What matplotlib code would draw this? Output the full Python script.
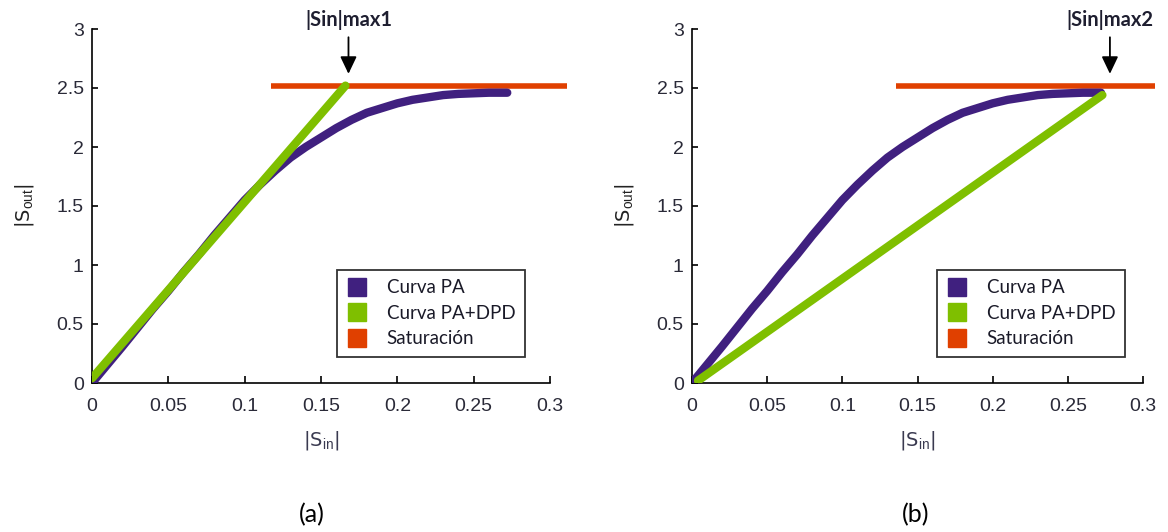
import matplotlib
matplotlib.use("Agg")
import matplotlib.pyplot as plt
from matplotlib.lines import Line2D

plt.rcParams["mathtext.fontset"] = "custom"
plt.rcParams["mathtext.rm"] = "Liberation Sans"
plt.rcParams["mathtext.it"] = "Liberation Sans"

# ---- data ----
pa_x = [0.0, 0.01, 0.02, 0.03, 0.04, 0.05, 0.06, 0.07, 0.08, 0.09, 0.10,
        0.11, 0.12, 0.13, 0.14, 0.15, 0.16, 0.17, 0.18, 0.19, 0.20,
        0.21, 0.22, 0.23, 0.24, 0.25, 0.26, 0.272]
pa_y = [0.0, 0.155, 0.31, 0.47, 0.63, 0.78, 0.94, 1.09, 1.25, 1.40, 1.55,
        1.68, 1.80, 1.91, 2.00, 2.08, 2.16, 2.23, 2.29, 2.33, 2.37,
        2.40, 2.42, 2.44, 2.45, 2.455, 2.46, 2.46]

dpd_a_x = [0.0, 0.166]
dpd_a_y = [0.04, 2.52]
dpd_b_x = [0.004, 0.273]
dpd_b_y = [0.02, 2.44]

sat_a_x = [0.117, 0.311]
sat_b_x = [0.136, 0.308]
sat_y = 2.52

arrow_a_x = 0.168
arrow_b_x = 0.278
arrow_labels = ["|Sin|max1", "|Sin|max2"]
captions = ["(a)", "(b)"]
legend_labels = ["Curva PA", "Curva PA+DPD", "Saturación"]
xticks = [0, 0.05, 0.1, 0.15, 0.2, 0.25, 0.3]
xticklabels = ["0", "0.05", "0.1", "0.15", "0.2", "0.25", "0.3"]
yticks = [0, 0.5, 1, 1.5, 2, 2.5, 3]
yticklabels = ["0", "0.5", "1", "1.5", "2", "2.5", "3"]

C_PA = "#40207f"
C_DPD = "#7fbf00"
C_SAT = "#e04000"

W, H = 1168, 532
fig = plt.figure(figsize=(W/100, H/100), dpi=100)
axA = fig.add_axes([92/W, (H-383)/H, 458/W, 354/H])
axB = fig.add_axes([692/W, (H-383)/H, 451/W, 354/H])

tick_font = dict(family="Liberation Sans", size=14, color="#2a2a38")

def setup(ax):
    ax.set_xlim(0, 0.3)
    ax.set_ylim(0, 3)
    ax.spines["top"].set_visible(False)
    ax.spines["right"].set_visible(False)
    ax.spines["left"].set_linewidth(1.2)
    ax.spines["bottom"].set_linewidth(1.2)
    ax.set_xticks(xticks)
    ax.set_xticklabels(xticklabels, **tick_font)
    ax.set_yticks(yticks)
    ax.set_yticklabels(yticklabels, **tick_font)
    ax.tick_params(axis="x", direction="in", length=5, width=1.2, pad=11)
    ax.tick_params(axis="y", direction="in", length=4, width=1.2, pad=6)
    ax.set_xlabel(r"|S$_{\mathrm{in}}$|", fontsize=14, color="#3a3a50", labelpad=10)
    ax.set_ylabel(r"|S$_{\mathrm{out}}$|", fontsize=14, color="#222222", labelpad=15)

for ax, dx, dy, sx, ax_x, lab, legx in [
        (axA, dpd_a_x, dpd_a_y, sat_a_x, arrow_a_x, arrow_labels[0], (337-92)/458),
        (axB, dpd_b_x, dpd_b_y, sat_b_x, arrow_b_x, arrow_labels[1], (937-692)/451)]:
    setup(ax)
    ax.plot(sx, [sat_y, sat_y], color=C_SAT, lw=4, solid_capstyle="butt", clip_on=False, zorder=3)
    ax.plot(pa_x, pa_y, color=C_PA, lw=6, solid_capstyle="round", zorder=4)
    ax.plot(dx, dy, color=C_DPD, lw=6, solid_capstyle="round", zorder=5)
    ax.annotate("", xy=(ax_x, 2.62), xytext=(ax_x, 2.93),
                arrowprops=dict(arrowstyle="-|>,head_length=0.42,head_width=0.2",
                                color="black", lw=1.3,
                                mutation_scale=25, shrinkA=0, shrinkB=0),
                annotation_clip=False)
    ax.text(ax_x, 3.075, lab, ha="center", va="center", fontsize=14.5,
            fontweight="bold", family="Lato", color="#1e1e30")
    handles = [Line2D([], [], ls="none", marker="s", markersize=13.5, color=c)
               for c in (C_PA, C_DPD, C_SAT)]
    leg = ax.legend(handles, legend_labels, loc="upper left",
                    bbox_to_anchor=(legx, (383-270)/354), bbox_transform=ax.transAxes,
                    prop=dict(family="Lato", size=13.5), frameon=True, fancybox=False,
                    edgecolor="black", handletextpad=1.05, labelspacing=0.45,
                    borderpad=0.5, handlelength=1.1, borderaxespad=0)
    leg.get_frame().set_linewidth(1.3)
    for t in leg.get_texts():
        t.set_color("#1a1a28")
    leg.set_zorder(10)

fig.text(312/W, 1 - 515/H, captions[0], ha="center", va="center",
         fontsize=18, family="Lato")
fig.text(916/W, 1 - 515/H, captions[1], ha="center", va="center",
         fontsize=18, family="Lato")

fig.savefig("out.png", dpi=100)
